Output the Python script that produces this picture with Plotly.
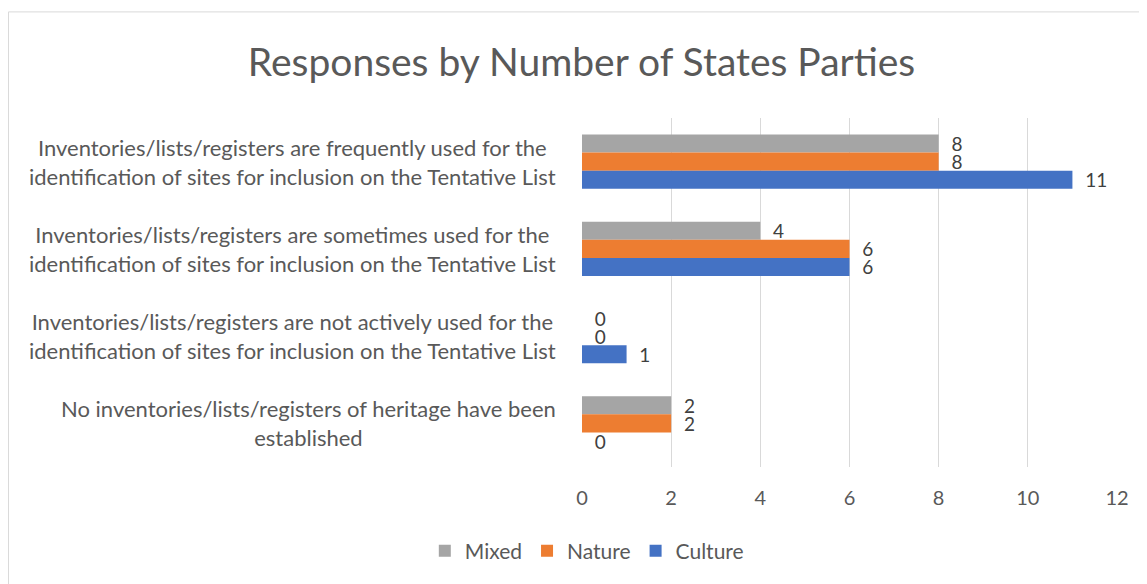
import plotly.graph_objects as go

categories = [
    "Inventories/lists/registers are frequently used for the<br>identification of sites for inclusion on the Tentative List",
    "Inventories/lists/registers are sometimes used for the<br>identification of sites for inclusion on the Tentative List",
    "Inventories/lists/registers are not actively used for the<br>identification of sites for inclusion on the Tentative List",
    "No inventories/lists/registers of heritage have been<br>established",
]
mixed = [8, 4, 0, 2]
nature = [8, 6, 0, 2]
culture = [11, 6, 1, 0]
x_ticks = [0, 2, 4, 6, 8, 10, 12]

FONT = "Lato"
fig = go.Figure()
for name, vals, color in [("Mixed", mixed, "#A5A5A5"),
                          ("Nature", nature, "#ED7D31"),
                          ("Culture", culture, "#4472C4")]:
    fig.add_trace(go.Bar(
        name=name, y=categories, x=vals, orientation="h",
        marker=dict(color=color, line=dict(width=0)),
        texttemplate="\u00a0\u00a0%{x}", textposition="outside",
        constraintext="none",
        textfont=dict(family=FONT, size=19, color="#404040"),
        cliponaxis=False,
    ))

for c in categories:
    fig.add_annotation(x=-0.045, xref="paper", y=c, yref="y", text=c,
                       showarrow=False, xanchor="right", align="center",
                       font=dict(family=FONT, size=22, color="#595959"))

fig.add_shape(type="rect", xref="paper", yref="paper",
              x0=-1.072, x1=1.4, y0=-0.7, y1=1.304,
              line=dict(color="#D9D9D9", width=1), fillcolor="rgba(0,0,0,0)", layer="below")

fig.update_layout(
    width=1147, height=584,
    margin=dict(l=574, r=38, t=110, b=125),
    paper_bgcolor="white", plot_bgcolor="white",
    barmode="group", bargap=0.38, bargroupgap=0,
    title=dict(text="Responses by Number of States Parties", x=0.5, xref="container",
               y=0.9075, yref="container", xanchor="center", yanchor="middle",
               font=dict(family=FONT, size=39, color="#595959")),
    xaxis=dict(range=[0, 12], tickvals=x_ticks, showgrid=True, gridcolor="#D9D9D9",
               gridwidth=1, zeroline=False, showline=False, ticks="",
               ticklabelstandoff=17,
               tickfont=dict(family=FONT, size=20, color="#595959")),
    yaxis=dict(autorange="reversed", showticklabels=False, showgrid=False,
               zeroline=False, showline=False, ticks=""),
    legend=dict(orientation="h", x=0.009, xanchor="center", y=-0.241, yanchor="middle",
                font=dict(family=FONT, size=21, color="#595959")),
    showlegend=True,
)
fig.write_html("out.html")
